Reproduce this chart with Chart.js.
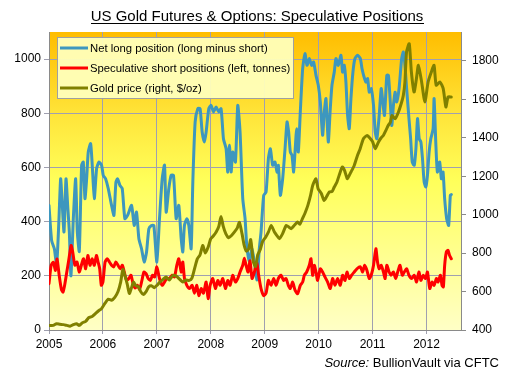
<!DOCTYPE html>
<html>
<head>
<meta charset="utf-8">
<script src="https://cdn.jsdelivr.net/npm/chart.js@4/dist/chart.umd.min.js"></script>
<style>
html,body{margin:0;padding:0;background:#fff;}
#wrap{width:507px;height:373px;position:relative;}
</style>
</head>
<body>
<div id="wrap"><canvas id="c" width="507" height="373"></canvas></div>
<script>
const titleText = "US Gold Futures & Options: Speculative Positions";
const sourceLabel = "Source:";
const sourceText = " BullionVault via CFTC";
const seriesNames = ["Net long position (long minus short)", "Speculative short positions (left, tonnes)", "Gold price (right, $/oz)"];
const yearTicks = [2005, 2006, 2007, 2008, 2009, 2010, 2011, 2012];
const leftTicks = [0, 200, 400, 600, 800, 1000];
const rightTicks = [400, 600, 800, 1000, 1200, 1400, 1600, 1800];

const netYears = [2005.000,2005.049,2005.099,2005.142,2005.185,2005.216,2005.247,2005.278,2005.315,2005.346,2005.377,2005.407,2005.451,2005.494,2005.525,2005.562,2005.605,2005.636,2005.667,2005.698,2005.728,2005.772,2005.802,2005.840,2005.883,2005.926,2005.975,2006.006,2006.049,2006.099,2006.160,2006.204,2006.241,2006.272,2006.315,2006.358,2006.407,2006.457,2006.531,2006.580,2006.623,2006.667,2006.716,2006.765,2006.809,2006.852,2006.901,2006.944,2007.000,2007.049,2007.099,2007.142,2007.173,2007.222,2007.265,2007.309,2007.358,2007.407,2007.451,2007.481,2007.512,2007.556,2007.593,2007.636,2007.667,2007.710,2007.759,2007.802,2007.840,2007.883,2007.914,2007.963,2008.006,2008.049,2008.099,2008.148,2008.191,2008.235,2008.284,2008.315,2008.346,2008.377,2008.407,2008.457,2008.500,2008.543,2008.593,2008.636,2008.667,2008.716,2008.765,2008.815,2008.858,2008.900,2008.932,2008.981,2009.025,2009.068,2009.105,2009.148,2009.191,2009.228,2009.253,2009.290,2009.333,2009.377,2009.414,2009.444,2009.475,2009.506,2009.537,2009.562,2009.593,2009.623,2009.660,2009.704,2009.747,2009.784,2009.827,2009.870,2009.907,2009.951,2009.994,2010.031,2010.074,2010.105,2010.136,2010.179,2010.216,2010.247,2010.290,2010.321,2010.364,2010.414,2010.444,2010.475,2010.506,2010.537,2010.568,2010.599,2010.636,2010.673,2010.722,2010.773,2010.804,2010.834,2010.877,2010.908,2010.939,2010.975,2011.018,2011.049,2011.080,2011.123,2011.160,2011.184,2011.221,2011.264,2011.294,2011.325,2011.356,2011.387,2011.417,2011.448,2011.491,2011.540,2011.571,2011.601,2011.632,2011.675,2011.706,2011.736,2011.773,2011.804,2011.834,2011.865,2011.896,2011.926,2011.957,2011.988,2012.018,2012.049,2012.080,2012.123,2012.141,2012.172,2012.202,2012.245,2012.276,2012.307,2012.337,2012.374,2012.411,2012.442,2012.460];
const netValues = [460,330,300,240,411,558,460,362,558,460,362,200,411,558,362,290,608,620,485,558,657,688,608,485,596,620,608,571,558,522,460,423,546,558,534,522,411,423,460,386,435,337,300,251,288,374,386,386,251,411,558,608,435,522,571,571,411,460,337,288,386,411,386,300,546,768,817,817,731,694,731,817,829,805,823,805,817,706,669,583,682,583,657,620,829,731,485,411,313,252,300,240,185,300,362,497,509,632,669,608,620,583,608,497,558,669,768,731,657,645,583,657,743,657,805,965,1020,977,1002,977,989,940,903,842,719,805,854,694,817,903,952,1002,977,1014,952,977,915,792,743,854,952,1002,1014,1002,965,940,915,928,878,891,829,731,706,792,891,854,792,940,940,854,755,829,878,842,891,1002,1026,977,891,780,706,620,608,669,780,706,694,632,546,528,571,657,706,743,854,694,583,620,558,583,485,411,386,497,500];

const shortYears = [2005.000,2005.040,2005.080,2005.120,2005.150,2005.190,2005.230,2005.260,2005.290,2005.330,2005.370,2005.410,2005.440,2005.480,2005.520,2005.560,2005.600,2005.640,2005.680,2005.720,2005.760,2005.800,2005.840,2005.880,2005.910,2005.940,2005.970,2006.000,2006.040,2006.080,2006.120,2006.160,2006.200,2006.240,2006.280,2006.320,2006.360,2006.410,2006.440,2006.480,2006.520,2006.560,2006.600,2006.640,2006.680,2006.720,2006.760,2006.800,2006.840,2006.880,2006.920,2006.960,2007.000,2007.049,2007.099,2007.142,2007.185,2007.235,2007.284,2007.327,2007.370,2007.407,2007.451,2007.481,2007.512,2007.556,2007.605,2007.654,2007.698,2007.741,2007.778,2007.821,2007.864,2007.914,2007.951,2007.988,2008.037,2008.086,2008.130,2008.173,2008.222,2008.272,2008.315,2008.358,2008.407,2008.457,2008.500,2008.543,2008.593,2008.623,2008.654,2008.691,2008.728,2008.765,2008.809,2008.852,2008.889,2008.932,2008.981,2009.025,2009.068,2009.117,2009.167,2009.210,2009.253,2009.302,2009.352,2009.395,2009.438,2009.475,2009.519,2009.562,2009.611,2009.660,2009.704,2009.735,2009.778,2009.827,2009.858,2009.889,2009.920,2009.951,2009.981,2010.031,2010.074,2010.117,2010.167,2010.216,2010.259,2010.302,2010.352,2010.401,2010.444,2010.488,2010.525,2010.568,2010.611,2010.660,2010.710,2010.773,2010.816,2010.853,2010.896,2010.939,2010.975,2011.018,2011.061,2011.092,2011.123,2011.160,2011.202,2011.233,2011.264,2011.307,2011.344,2011.387,2011.429,2011.466,2011.509,2011.552,2011.589,2011.632,2011.675,2011.724,2011.773,2011.816,2011.859,2011.896,2011.939,2011.982,2012.018,2012.061,2012.104,2012.141,2012.184,2012.215,2012.258,2012.288,2012.313,2012.337,2012.368,2012.399,2012.429,2012.460];
const shortValues = [171,239,250,220,262,200,150,140,165,214,263,312,288,239,251,214,239,263,226,275,239,263,239,275,251,226,165,177,251,263,251,239,233,251,239,226,239,202,183,190,202,170,155,165,150,180,214,208,190,183,202,196,233,190,165,177,190,190,202,196,239,263,214,251,190,165,153,165,136,165,127,153,136,177,116,165,190,153,183,165,190,153,183,165,202,177,190,214,239,265,239,214,255,190,214,251,200,153,127,136,183,165,190,165,190,202,183,190,165,153,177,147,134,165,177,202,214,239,263,202,239,214,183,226,214,196,177,153,190,165,190,165,202,183,214,190,202,214,226,233,214,239,220,190,202,239,300,251,226,239,214,190,239,214,202,214,190,214,239,202,214,226,202,190,202,177,214,183,202,190,214,153,177,165,190,177,202,165,159,239,288,294,275,263];

const goldYears = [2005.000,2005.080,2005.140,2005.200,2005.270,2005.330,2005.390,2005.450,2005.510,2005.560,2005.620,2005.680,2005.740,2005.800,2005.860,2005.920,2005.970,2006.040,2006.100,2006.160,2006.220,2006.280,2006.330,2006.370,2006.410,2006.450,2006.490,2006.530,2006.570,2006.610,2006.660,2006.700,2006.750,2006.800,2006.850,2006.900,2006.950,2007.000,2007.060,2007.120,2007.170,2007.230,2007.300,2007.360,2007.420,2007.480,2007.540,2007.600,2007.650,2007.700,2007.750,2007.800,2007.850,2007.900,2007.950,2008.000,2008.050,2008.100,2008.150,2008.190,2008.230,2008.280,2008.330,2008.380,2008.440,2008.490,2008.530,2008.580,2008.620,2008.660,2008.700,2008.740,2008.790,2008.830,2008.870,2008.920,2008.960,2009.020,2009.070,2009.120,2009.180,2009.230,2009.270,2009.330,2009.400,2009.450,2009.490,2009.550,2009.610,2009.650,2009.700,2009.750,2009.800,2009.850,2009.890,2009.950,2009.990,2010.050,2010.100,2010.150,2010.200,2010.250,2010.290,2010.340,2010.380,2010.440,2010.480,2010.530,2010.560,2010.600,2010.660,2010.720,2010.770,2010.830,2010.900,2010.960,2011.000,2011.050,2011.110,2011.160,2011.200,2011.250,2011.290,2011.330,2011.360,2011.420,2011.480,2011.540,2011.570,2011.600,2011.630,2011.680,2011.720,2011.770,2011.810,2011.850,2011.910,2011.970,2012.030,2012.090,2012.140,2012.180,2012.250,2012.310,2012.360,2012.400,2012.460];
const goldValues = [424,424,433,430,428,424,420,428,433,424,438,445,465,470,485,500,510,540,560,555,570,600,650,715,680,640,590,620,650,630,625,600,585,600,625,630,620,632,650,665,676,660,684,680,665,650,660,658,670,720,770,790,840,800,830,875,890,910,940,990,940,900,880,890,910,930,960,900,840,810,820,870,754,730,790,820,860,884,910,944,910,890,875,900,944,935,927,945,962,950,979,1010,1048,1100,1152,1187,1135,1110,1074,1095,1118,1120,1144,1170,1204,1248,1230,1187,1200,1222,1256,1308,1343,1395,1412,1395,1380,1343,1378,1400,1412,1440,1464,1480,1516,1499,1534,1586,1620,1690,1846,1889,1742,1638,1700,1777,1690,1586,1690,1742,1777,1673,1690,1655,1560,1612,1612];

const colors = ["#3d97be", "#ff0000", "#808000"];
const FONT = "'Liberation Sans', Arial, sans-serif";

function pts(xs, ys) { return xs.map((x, i) => ({ x: x, y: ys[i] })); }

const decor = {
  id: 'decor',
  beforeDraw(chart) {
    const { ctx, chartArea: a } = chart;
    const g = ctx.createLinearGradient(0, a.top, 0, a.bottom);
    g.addColorStop(0, '#ffbd00');
    g.addColorStop(0.28, '#ffe53a');
    g.addColorStop(0.5, '#ffff5a');
    g.addColorStop(1, '#ffffc6');
    ctx.save();
    ctx.fillStyle = g;
    ctx.fillRect(a.left, a.top, a.right - a.left, a.bottom - a.top);
    ctx.restore();
  },
  afterDraw(chart) {
    const { ctx } = chart;
    ctx.save();
    ctx.fillStyle = '#000';
    ctx.font = "15px " + FONT;
    ctx.textAlign = 'center';
    ctx.textBaseline = 'alphabetic';
    const tw = ctx.measureText(titleText).width;
    const tx = 257, ty = 21;
    ctx.fillText(titleText, tx, ty);
    ctx.fillRect(Math.round(tx - tw / 2), ty + 2, Math.round(tw), 1);
    const lx = 57.5, ly = 37.5, lw = 236, lh = 61;
    ctx.fillStyle = 'rgba(255,255,186,0.95)';
    ctx.fillRect(lx, ly, lw, lh);
    ctx.strokeStyle = '#a0a0a0';
    ctx.lineWidth = 1;
    ctx.strokeRect(lx, ly, lw, lh);
    ctx.font = "11.3px " + FONT;
    ctx.textAlign = 'left';
    ctx.textBaseline = 'middle';
    for (let i = 0; i < 3; i++) {
      const y = 48 + i * 20;
      ctx.strokeStyle = colors[i];
      ctx.lineWidth = 3;
      ctx.beginPath();
      ctx.moveTo(60, y);
      ctx.lineTo(88, y);
      ctx.stroke();
      ctx.fillStyle = '#000';
      ctx.fillText(seriesNames[i], 90, y + 0.5);
    }
    ctx.textBaseline = 'alphabetic';
    ctx.textAlign = 'left';
    ctx.font = "13px " + FONT;
    const w2 = ctx.measureText(sourceText).width;
    ctx.font = "italic 13px " + FONT;
    const w1 = ctx.measureText(sourceLabel).width;
    const sx = 499 - w1 - w2;
    ctx.fillText(sourceLabel, sx, 367);
    ctx.font = "13px " + FONT;
    ctx.fillText(sourceText, sx + w1, 367);
    ctx.restore();
  }
};

const gridColor = '#a0a0b0';
const chart = new Chart(document.getElementById('c'), {
  type: 'line',
  data: {
    datasets: [
      { label: seriesNames[0], data: pts(netYears, netValues), borderColor: colors[0], yAxisID: 'y', order: 3 },
      { label: seriesNames[1], data: pts(shortYears, shortValues), borderColor: colors[1], yAxisID: 'y', order: 2 },
      { label: seriesNames[2], data: pts(goldYears, goldValues), borderColor: colors[2], yAxisID: 'y1', order: 1 }
    ]
  },
  options: {
    responsive: false,
    animation: false,
    devicePixelRatio: 1,
    parsing: false,
    elements: {
      line: { borderWidth: 3, tension: 0.2, fill: false, borderCapStyle: 'round', borderJoinStyle: 'round' },
      point: { radius: 0 }
    },
    layout: { padding: { top: 32, left: 0, right: 0, bottom: 0 } },
    plugins: { legend: { display: false }, title: { display: false }, tooltip: { enabled: false } },
    scales: {
      x: {
        type: 'linear', min: 2005, max: 2012.64,
        afterBuildTicks(s) { s.ticks = yearTicks.map(v => ({ value: v })); },
        afterFit(s) { s.height = 43; },
        ticks: { callback: v => String(v), color: '#000', font: { family: FONT, size: 12 }, padding: 3, maxRotation: 0, autoSkip: false },
        grid: { color: gridColor, tickLength: 4, lineWidth: 1 },
        border: { display: true, color: '#8a8a8a' }
      },
      y: {
        position: 'left', min: 0, max: 1100,
        afterBuildTicks(s) { s.ticks = leftTicks.map(v => ({ value: v })); },
        afterFit(s) { s.width = 49; },
        ticks: { callback: v => String(v), color: '#000', font: { family: FONT, size: 12 }, padding: 3 },
        grid: { color: gridColor, tickLength: 5, lineWidth: 1 },
        border: { display: true, color: '#8a8a8a' }
      },
      y1: {
        position: 'right', min: 400, max: 1950,
        afterBuildTicks(s) { s.ticks = rightTicks.map(v => ({ value: v })); },
        afterFit(s) { s.width = 46; },
        ticks: { callback: v => String(v), color: '#000', font: { family: FONT, size: 12 }, padding: 6 },
        grid: { drawOnChartArea: false, color: '#8a8a8a', tickLength: 5 },
        border: { display: true, color: '#8a8a8a' }
      }
    }
  },
  plugins: [decor]
});
</script>
</body>
</html>
